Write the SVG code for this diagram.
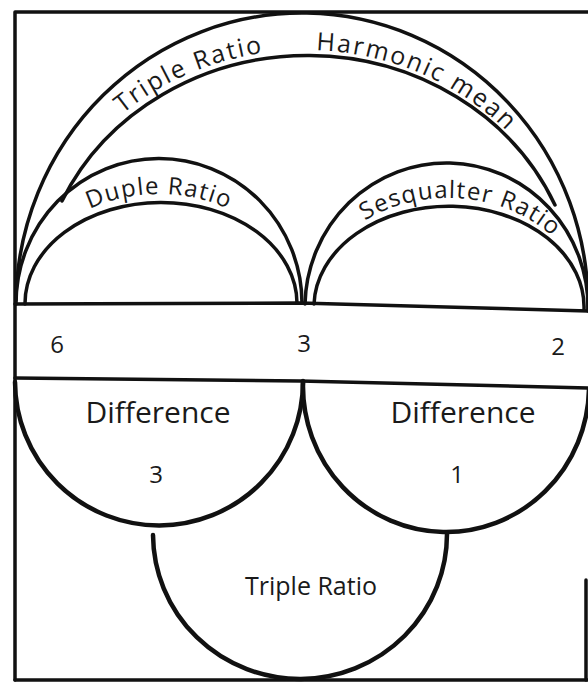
<svg xmlns="http://www.w3.org/2000/svg" width="588" height="683" viewBox="0 0 588 683">
<style>
.arc{fill:none;stroke:#111;stroke-width:3.5;stroke-linecap:round}
.bowl{fill:none;stroke:#111;stroke-width:4.5;stroke-linecap:round}
.line{fill:none;stroke:#111;stroke-width:3.5;stroke-linecap:round;stroke-linejoin:round}
.t{font-family:"Open Sans","Noto Sans","Liberation Sans",sans-serif;fill:#1a1a1a}
.arch{font-size:25px;letter-spacing:2px}
.small-arch{font-size:24px;letter-spacing:1.2px}
.num{font-size:24px;text-anchor:middle}
.diff{font-size:30px;text-anchor:middle}
</style>
<defs>
<path id="bigBase" d="M 29 305 A 276 255 0 0 1 581 305"/>
<path id="dupleBase" d="M 21 304 A 138 110 0 0 1 297 304"/>
<path id="sesqBase" d="M 311 308 A 137 110 0 0 1 585 308"/>
</defs>
<rect width="588" height="683" fill="#fff"/>
<g id="frame">
<path class="line" d="M 15 680 L 15 12 L 588 12" stroke-width="4"/>
<path class="line" d="M 15 680 L 588 680" stroke-width="2"/>
<path class="line" d="M 586 580 L 586 680" stroke-width="1.5"/>
</g>
<g id="band">
<path class="line" d="M 15 304 L 300 303 L 588 311"/>
<path class="line" d="M 15 378 L 300 381 L 588 388"/>
<text class="t num" x="57" y="353">6</text>
<text class="t num" x="304" y="352">3</text>
<text class="t num" x="558" y="355">2</text>
</g>
<g id="triple-harmonic-arch">
<path class="arc" d="M 16 300 A 280 285.9 0 0 1 588 310"/>
<path class="arc" d="M 62 201 A 270 249 0 0 1 555 205"/>
<text class="t arch"><textPath href="#bigBase" startOffset="220">Triple Ratio</textPath></text>
<text class="t arch"><textPath href="#bigBase" startOffset="428">Harmonic mean</textPath></text>
</g>
<g id="duple-arch">
<path class="arc" d="M 16 304 A 140 142 0 0 1 302 303"/>
<path class="arc" d="M 25 304 A 130 96.6 0 0 1 297 303"/>
<text class="t small-arch" text-anchor="middle"><textPath href="#dupleBase" startOffset="50%">Duple Ratio</textPath></text>
</g>
<g id="sesqualter-arch">
<path class="arc" d="M 305 304 A 138 141 0 0 1 588 311"/>
<path class="arc" d="M 314 304 A 130 97 0 0 1 584 310"/>
<text class="t small-arch" text-anchor="middle"><textPath href="#sesqBase" startOffset="53.5%">Sesqualter Ratio</textPath></text>
</g>
<g id="difference-left">
<path class="bowl" d="M 15 382 A 140 140 0 0 0 303 381"/>
<text class="t diff" x="158" y="423">Difference</text>
<text class="t num" x="156" y="483">3</text>
</g>
<g id="difference-right">
<path class="bowl" d="M 303 383 A 140 143 0 0 0 589 389"/>
<text class="t diff" x="463" y="423">Difference</text>
<text class="t num" x="457" y="483">1</text>
</g>
<g id="triple-bowl">
<path class="bowl" d="M 153 535 A 142 140 0 0 0 447 533"/>
<text class="t" x="311" y="595" font-size="25" text-anchor="middle">Triple Ratio</text>
</g>
<g id="connectors"></g>
</svg>
